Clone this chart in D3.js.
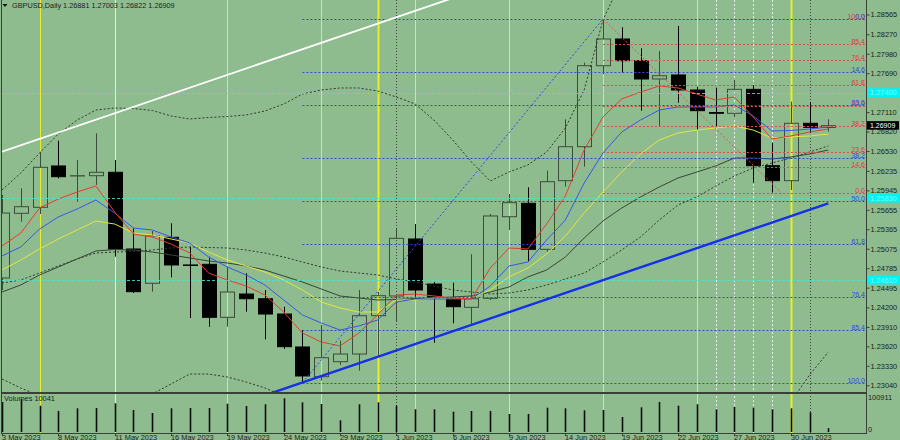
<!DOCTYPE html>
<html><head><meta charset="utf-8">
<script src="https://cdn.jsdelivr.net/npm/d3@7"></script>
<style>
body{margin:0;background:#8fbc8f;}
svg{display:block;font-family:"Liberation Sans",Arial,sans-serif;}
</style>
</head><body>
<svg id="c" width="900" height="440"></svg>
<script>
// ---------------- DATA ----------------
const symbol = "GBPUSD,Daily";
const dates = ["2023-05-03","2023-05-04","2023-05-05","2023-05-08","2023-05-09","2023-05-10","2023-05-11","2023-05-12","2023-05-15","2023-05-16","2023-05-17","2023-05-18","2023-05-19","2023-05-22","2023-05-23","2023-05-24","2023-05-25","2023-05-26","2023-05-29","2023-05-30","2023-05-31","2023-06-01","2023-06-02","2023-06-05","2023-06-06","2023-06-07","2023-06-08","2023-06-09","2023-06-12","2023-06-13","2023-06-14","2023-06-15","2023-06-16","2023-06-19","2023-06-20","2023-06-21","2023-06-22","2023-06-23","2023-06-26","2023-06-27","2023-06-28","2023-06-29","2023-06-30","2023-07-03","2023-07-04"];
const open  = [1.24639,1.25603,1.25692,1.26308,1.26159,1.26163,1.26214,1.25071,1.24560,1.25245,1.24833,1.24843,1.24053,1.24400,1.24330,1.24102,1.23611,1.23168,1.23392,1.23506,1.24077,1.24371,1.25220,1.24549,1.24330,1.24202,1.24336,1.25552,1.25752,1.25066,1.26089,1.26595,1.27802,1.28200,1.27877,1.27604,1.27664,1.27440,1.27105,1.27093,1.27450,1.26312,1.26089,1.26944,1.26881];
const high  = [1.25876,1.25975,1.26521,1.26685,1.26397,1.26795,1.26397,1.25379,1.25339,1.25454,1.25105,1.24956,1.24807,1.24709,1.24460,1.24211,1.23864,1.23939,1.23705,1.24460,1.24430,1.25379,1.25443,1.24579,1.24569,1.24992,1.25592,1.25890,1.25990,1.26238,1.27003,1.27847,1.28498,1.28374,1.28061,1.28021,1.28394,1.27489,1.27474,1.27589,1.27515,1.26655,1.27266,1.27262,1.27003];
const low   = [1.24460,1.25478,1.25592,1.26124,1.25776,1.26025,1.24956,1.24415,1.24435,1.24649,1.24043,1.23913,1.23913,1.24137,1.23725,1.23581,1.23079,1.23109,1.23343,1.23258,1.23477,1.23988,1.24360,1.23675,1.23964,1.23953,1.24311,1.25354,1.24882,1.25031,1.26000,1.26297,1.27678,1.27698,1.27132,1.26904,1.27251,1.26844,1.26884,1.27033,1.26059,1.25910,1.25950,1.26799,1.26822];
const close = [1.25607,1.25701,1.26288,1.26148,1.26163,1.26214,1.25071,1.24435,1.25265,1.24833,1.24825,1.24053,1.24430,1.24330,1.24102,1.23615,1.23179,1.23451,1.23506,1.24077,1.24375,1.25230,1.24460,1.24351,1.24211,1.24330,1.25563,1.25761,1.25066,1.26074,1.26595,1.27802,1.28200,1.27877,1.27604,1.27653,1.27440,1.27132,1.27093,1.27450,1.26312,1.26089,1.26944,1.26884,1.26909];
const volume = [77600,85400,68000,54300,61300,62100,74200,56900,49200,61300,62100,62100,73200,67300,71700,87200,76800,72400,30300,71700,76800,68000,58700,58700,52500,54300,54300,46600,46600,62900,61300,56100,56900,38800,63900,77600,68000,71700,58700,64700,62900,58700,61300,51000,10041];
const volumeMax = 100911;

// indicator lines
const maRed    = [1.25116,1.25309,1.25682,1.25816,1.25920,1.26010,1.25622,1.25294,1.25250,1.25145,1.25011,1.24713,1.24609,1.24520,1.24386,1.24132,1.23819,1.23685,1.23626,1.23819,1.24088,1.24386,1.24400,1.24371,1.24341,1.24326,1.24788,1.25086,1.25071,1.25443,1.25861,1.26546,1.27038,1.27306,1.27410,1.27500,1.27470,1.27380,1.27291,1.27336,1.27038,1.26710,1.26755,1.26814,1.26859];
const maBlue   = [1.24967,1.25101,1.25369,1.25548,1.25667,1.25801,1.25607,1.25384,1.25354,1.25250,1.25160,1.24952,1.24803,1.24684,1.24535,1.24311,1.24088,1.23968,1.23864,1.23924,1.24013,1.24281,1.24326,1.24326,1.24326,1.24326,1.24520,1.24818,1.24877,1.25205,1.25503,1.26054,1.26501,1.26814,1.26993,1.27142,1.27187,1.27187,1.27187,1.27217,1.27053,1.26829,1.26837,1.26859,1.26889];
const maYellow = [1.24758,1.24907,1.25071,1.25220,1.25354,1.25488,1.25443,1.25309,1.25280,1.25220,1.25160,1.25026,1.24907,1.24818,1.24728,1.24609,1.24460,1.24281,1.24192,1.24132,1.24132,1.24311,1.24311,1.24341,1.24341,1.24341,1.24460,1.24654,1.24788,1.24996,1.25265,1.25607,1.25920,1.26218,1.26486,1.26695,1.26799,1.26844,1.26874,1.26904,1.26844,1.26725,1.26740,1.26755,1.26784];
const maDark   = [1.24430,1.24535,1.24684,1.24803,1.24922,1.25041,1.25063,1.25056,1.25026,1.24982,1.24937,1.24892,1.24862,1.24818,1.24758,1.24669,1.24579,1.24475,1.24371,1.24341,1.24311,1.24318,1.24333,1.24341,1.24356,1.24371,1.24430,1.24505,1.24654,1.24758,1.24952,1.25235,1.25488,1.25682,1.25846,1.25995,1.26129,1.26218,1.26308,1.26427,1.26427,1.26412,1.26442,1.26486,1.26546];
const bandMid  = [1.24564,1.24609,1.24713,1.24818,1.24922,1.25011,1.25026,1.25034,1.25056,1.25086,1.25101,1.25093,1.25086,1.25056,1.25011,1.24952,1.24877,1.24803,1.24743,1.24713,1.24684,1.24624,1.24579,1.24520,1.24460,1.24430,1.24400,1.24415,1.24460,1.24535,1.24624,1.24713,1.24877,1.25056,1.25250,1.25503,1.25727,1.25846,1.26010,1.26159,1.26278,1.26352,1.26427,1.26516,1.26606];
const bandUp   = [1.25950,1.26203,1.26501,1.26784,1.26993,1.27142,1.27172,1.27164,1.27135,1.27053,1.27008,1.27030,1.27045,1.27068,1.27127,1.27231,1.27380,1.27440,1.27470,1.27470,1.27425,1.27336,1.27231,1.26993,1.26695,1.26367,1.26084,1.26218,1.26323,1.26516,1.26874,1.27440,1.28483,1.29079,1.29452,1.29675,1.29824,1.29899,1.29943,1.29973,1.29973,1.29973,1.30092,1.29869,1.29705];
const bandLow  = [1.23134,1.23000,1.22881,1.22791,1.22747,1.22732,1.22747,1.22791,1.22910,1.23059,1.23208,1.23208,1.23164,1.23089,1.23000,1.22881,1.22374,1.22165,1.22016,1.21957,1.21942,1.21912,1.21927,1.22046,1.22225,1.22493,1.22717,1.22612,1.22598,1.22553,1.22374,1.21987,1.21271,1.21033,1.21048,1.21331,1.21629,1.21793,1.22076,1.22344,1.22583,1.22732,1.22791,1.23194,1.23536];

const priceTicks = ["1.28565","1.28270","1.27980","1.27690","1.27400","1.27110","1.26820","1.26530","1.26235","1.25945","1.25655","1.25365","1.25075","1.24785","1.24495","1.24200","1.23910","1.23620","1.23330","1.23040"];
const dateTickIdx = [0,3,6,9,12,15,18,21,24,27,30,33,36,39,42];

const fibLevels = [0, 14.6, 23.6, 38.2, 50.0, 61.8, 76.4, 85.4, 100.0];
const fibBlue = {startIdx: 16, low: 1.23079, high: 1.28498};   // 0 at high, 100 at low
const fibRed  = {startIdx: 32, low: 1.25910, high: 1.28498};   // 0 at low, 100 at high
const blueDiag = [[16, 1.23079],[32, 1.28498]];
const redDiag  = [[32, 1.28498],[41.5, 1.25910]];
const whiteTrend = [[0, 1.2652],[24, 1.2881]];
const blueTrend  = [[14.3, 1.2292],[44, 1.2575]];
const hLevels = [1.27400, 1.25830, 1.24610];
const hLevelLabels = ["1.27400","1.25830","1.24610"];
const yellowLines = [2,6,12,17,20,22,27,32,37,42];
const whiteDotLines = [38,39,40,41];
const darkDotLines = [21,43];

// ---------------- DRAW ----------------
const svg = d3.select("#c");
const plotL = 2, plotR = 866, mainBot = 392, volTop = 394, volBot = 433;
const x = d3.scaleLinear().domain([0, 44]).range([2, 828.3]);
const y = d3.scaleLinear().domain([1.23040, 1.28565]).range([385.3, 14.5]);
const yv = d3.scaleLinear().domain([0, volumeMax]).range([432, 393]);
const px = i => Math.round(x(i)) + 0.5;
const FS = 7.4;
const BULL = "#394d39";

svg.append("rect").attr("width", 900).attr("height", 440).attr("fill", "#8fbc8f");
const defs = svg.append("defs");
defs.append("clipPath").attr("id", "cm").append("rect").attr("x", plotL).attr("y", 0).attr("width", plotR - plotL).attr("height", mainBot);
defs.append("clipPath").attr("id", "cv").append("rect").attr("x", plotL).attr("y", volTop).attr("width", plotR - plotL).attr("height", volBot - volTop);
defs.append("clipPath").attr("id", "call").append("rect").attr("x", plotL).attr("y", 0).attr("width", plotR - plotL).attr("height", volBot);

// vertical lines
const vg = svg.append("g").attr("clip-path", "url(#call)");
yellowLines.forEach(i => {
  vg.append("line").attr("x1", px(i)).attr("x2", px(i)).attr("y1", 0).attr("y2", volBot)
    .attr("stroke", i === 6 ? "#eef2b4" : "#e8ee2a")
    .attr("stroke-width", (i === 20 || i === 42) ? 2 : 1);
});
whiteDotLines.forEach(i => {
  vg.append("line").attr("x1", px(i)).attr("x2", px(i)).attr("y1", 0).attr("y2", volBot)
    .attr("stroke", "#e6ece6").attr("stroke-dasharray", "2,2");
});
darkDotLines.forEach(i => {
  vg.append("line").attr("x1", px(i)).attr("x2", px(i)).attr("y1", 0).attr("y2", volBot)
    .attr("stroke", "#3a463a").attr("stroke-dasharray", "1,2");
});

const main = svg.append("g").attr("clip-path", "url(#cm)");

// candles
const cg = main.append("g");
dates.forEach((d, i) => {
  const bull = close[i] >= open[i];
  const col = bull ? BULL : "#000";
  const xc = px(i);
  const yt = y(Math.max(open[i], close[i])), yb = y(Math.min(open[i], close[i]));
  cg.append("line").attr("x1", xc).attr("x2", xc).attr("y1", y(high[i])).attr("y2", yt).attr("stroke", col);
  cg.append("line").attr("x1", xc).attr("x2", xc).attr("y1", yb).attr("y2", y(low[i])).attr("stroke", col);
  cg.append("rect").attr("x", xc - 7).attr("y", yt).attr("width", 14).attr("height", Math.max(0, yb - yt))
    .attr("fill", bull ? "none" : "#000").attr("stroke", col);
});

// indicator lines
const lineGen = d3.line().x((d, i) => x(i)).y(d => y(d));
const drawLine = (arr, color, dash, w) => main.append("path").datum(arr).attr("d", lineGen)
  .attr("fill", "none").attr("stroke", color).attr("stroke-width", w || 1)
  .attr("stroke-dasharray", dash || null);
drawLine(bandUp, "#2c3a2c", "2,2");
drawLine(bandMid, "#2c3a2c", "2,2");
drawLine(bandLow, "#2c3a2c", "2,2");
drawLine(maDark, "#344634");
drawLine(maYellow, "#e4e640");
drawLine(maBlue, "#3656ee");
drawLine(maRed, "#e63c2c");

// horizontal cyan levels
hLevels.forEach(p => {
  main.append("line").attr("x1", plotL).attr("x2", plotR).attr("y1", Math.round(y(p)) + 0.5).attr("y2", Math.round(y(p)) + 0.5)
    .attr("stroke", "#46e6d8").attr("stroke-dasharray", "3,2").attr("opacity", 0.85);
});

// fibonacci levels
const fibG = svg.append("g");
function fibPrice(f, lvl, fromHigh) {
  return fromHigh ? f.high - lvl / 100 * (f.high - f.low) : f.low + lvl / 100 * (f.high - f.low);
}
const drawFib = (f, fromHigh, color, textColor) => {
  fibLevels.forEach(lvl => {
    const yy = Math.round(y(fibPrice(f, lvl, fromHigh))) + 0.5;
    main.append("line").attr("x1", x(f.startIdx)).attr("x2", plotR).attr("y1", yy).attr("y2", yy)
      .attr("stroke", color).attr("stroke-dasharray", "2,2");
    fibG.append("text").attr("x", 865).attr("y", yy - 0.5).attr("text-anchor", "end")
      .attr("font-size", 7).attr("fill", textColor).text(lvl.toFixed(1));
  });
};
drawFib(fibRed, false, "#de4e4e", "#e03a3a");
drawFib(fibBlue, true, "#3048e0", "#2e48e6");

// diagonal fib lines and trend lines
const segGen = d3.line().x(d => x(d[0])).y(d => y(d[1]));
main.append("path").datum(blueDiag).attr("d", segGen).attr("stroke", "#3048e0").attr("stroke-dasharray", "2,2").attr("fill", "none");
main.append("path").datum(redDiag).attr("d", segGen).attr("stroke", "#de4e4e").attr("stroke-dasharray", "2,2").attr("fill", "none");
main.append("path").datum(whiteTrend).attr("d", segGen).attr("stroke", "#ffffff").attr("stroke-width", 1.8).attr("fill", "none");
main.append("path").datum(blueTrend).attr("d", segGen).attr("stroke", "#1430e8").attr("stroke-width", 2.4).attr("fill", "none");

// volumes
const vol = svg.append("g").attr("clip-path", "url(#cv)");
volume.forEach((v, i) => {
  vol.append("line").attr("x1", px(i)).attr("x2", px(i)).attr("y1", yv(v)).attr("y2", yv(0))
    .attr("stroke", "#0c0c0c").attr("stroke-width", 1.6);
});

// borders
const bc = "#364236";
svg.append("line").attr("x1", 1.5).attr("x2", 1.5).attr("y1", 0).attr("y2", volBot).attr("stroke", bc);
svg.append("line").attr("x1", plotR + 0.5).attr("x2", plotR + 0.5).attr("y1", 0).attr("y2", volBot).attr("stroke", bc);
svg.append("line").attr("x1", 1).attr("x2", plotR + 1).attr("y1", mainBot + 0.5).attr("y2", mainBot + 0.5).attr("stroke", bc);
svg.append("line").attr("x1", 1).attr("x2", plotR + 1).attr("y1", volTop - 0.5).attr("y2", volTop - 0.5).attr("stroke", bc);
svg.append("line").attr("x1", 1).attr("x2", plotR + 1).attr("y1", volBot + 0.5).attr("y2", volBot + 0.5).attr("stroke", bc);

// price axis
const yAxis = d3.axisRight(y).tickValues(priceTicks.map(Number)).tickFormat((d, i) => priceTicks[i]).tickSize(3).tickPadding(1);
const ya = svg.append("g").attr("transform", `translate(${plotR + 0.5},0)`).call(yAxis);
ya.select(".domain").remove();
ya.selectAll("line").attr("stroke", bc);
ya.selectAll("text").attr("font-size", FS).attr("fill", "#1c1c1c").attr("font-family", "Liberation Sans, Arial, sans-serif");

// volume axis labels
svg.append("text").attr("x", 868).attr("y", 399.5).attr("font-size", FS).attr("fill", "#1c1c1c").text(String(volumeMax));
svg.append("text").attr("x", 868).attr("y", 431.5).attr("font-size", FS).attr("fill", "#1c1c1c").text("0");
svg.append("text").attr("x", 4).attr("y", 400.5).attr("font-size", FS).attr("fill", "#1c1c1c").text("Volumes " + volume[volume.length - 1]);

// date axis
const parse = d3.timeParse("%Y-%m-%d"), fmt = d3.timeFormat("%-d %b %Y");
const xa = svg.append("g");
dateTickIdx.forEach(i => {
  xa.append("line").attr("x1", px(i)).attr("x2", px(i)).attr("y1", volBot).attr("y2", volBot + 3).attr("stroke", bc);
  xa.append("text").attr("x", px(i) - 0.5).attr("y", 439.5).attr("font-size", FS).attr("fill", "#1c1c1c").text(fmt(parse(dates[i])));
});

// level labels on the price axis
hLevels.forEach((p, k) => {
  const yy = y(p);
  svg.append("rect").attr("x", plotR + 1).attr("y", yy - 4.5).attr("width", 900 - plotR).attr("height", 9).attr("fill", "#00f4f4");
  svg.append("text").attr("x", 870).attr("y", yy + 2.6).attr("font-size", FS).attr("fill", "#7ffcfc").text(hLevelLabels[k]);
});
const last = close[close.length - 1];
svg.append("rect").attr("x", plotR + 1).attr("y", y(last) - 4.5).attr("width", 900 - plotR - 2).attr("height", 8.5).attr("fill", "#000");
svg.append("text").attr("x", 870).attr("y", y(last) + 2.2).attr("font-size", 7).attr("fill", "#ffffff").text(last.toFixed(5));

// header
svg.append("path").attr("d", "M2.5,4 L7.5,4 L5,7 Z").attr("fill", "#111");
const n = open.length - 1;
svg.append("text").attr("x", 12).attr("y", 7.8).attr("font-size", 7.3).attr("fill", "#1c1c1c")
  .text(`${symbol}  ${open[n].toFixed(5)} ${high[n].toFixed(5)} ${low[n].toFixed(5)} ${close[n].toFixed(5)}`);
</script>
</body></html>
